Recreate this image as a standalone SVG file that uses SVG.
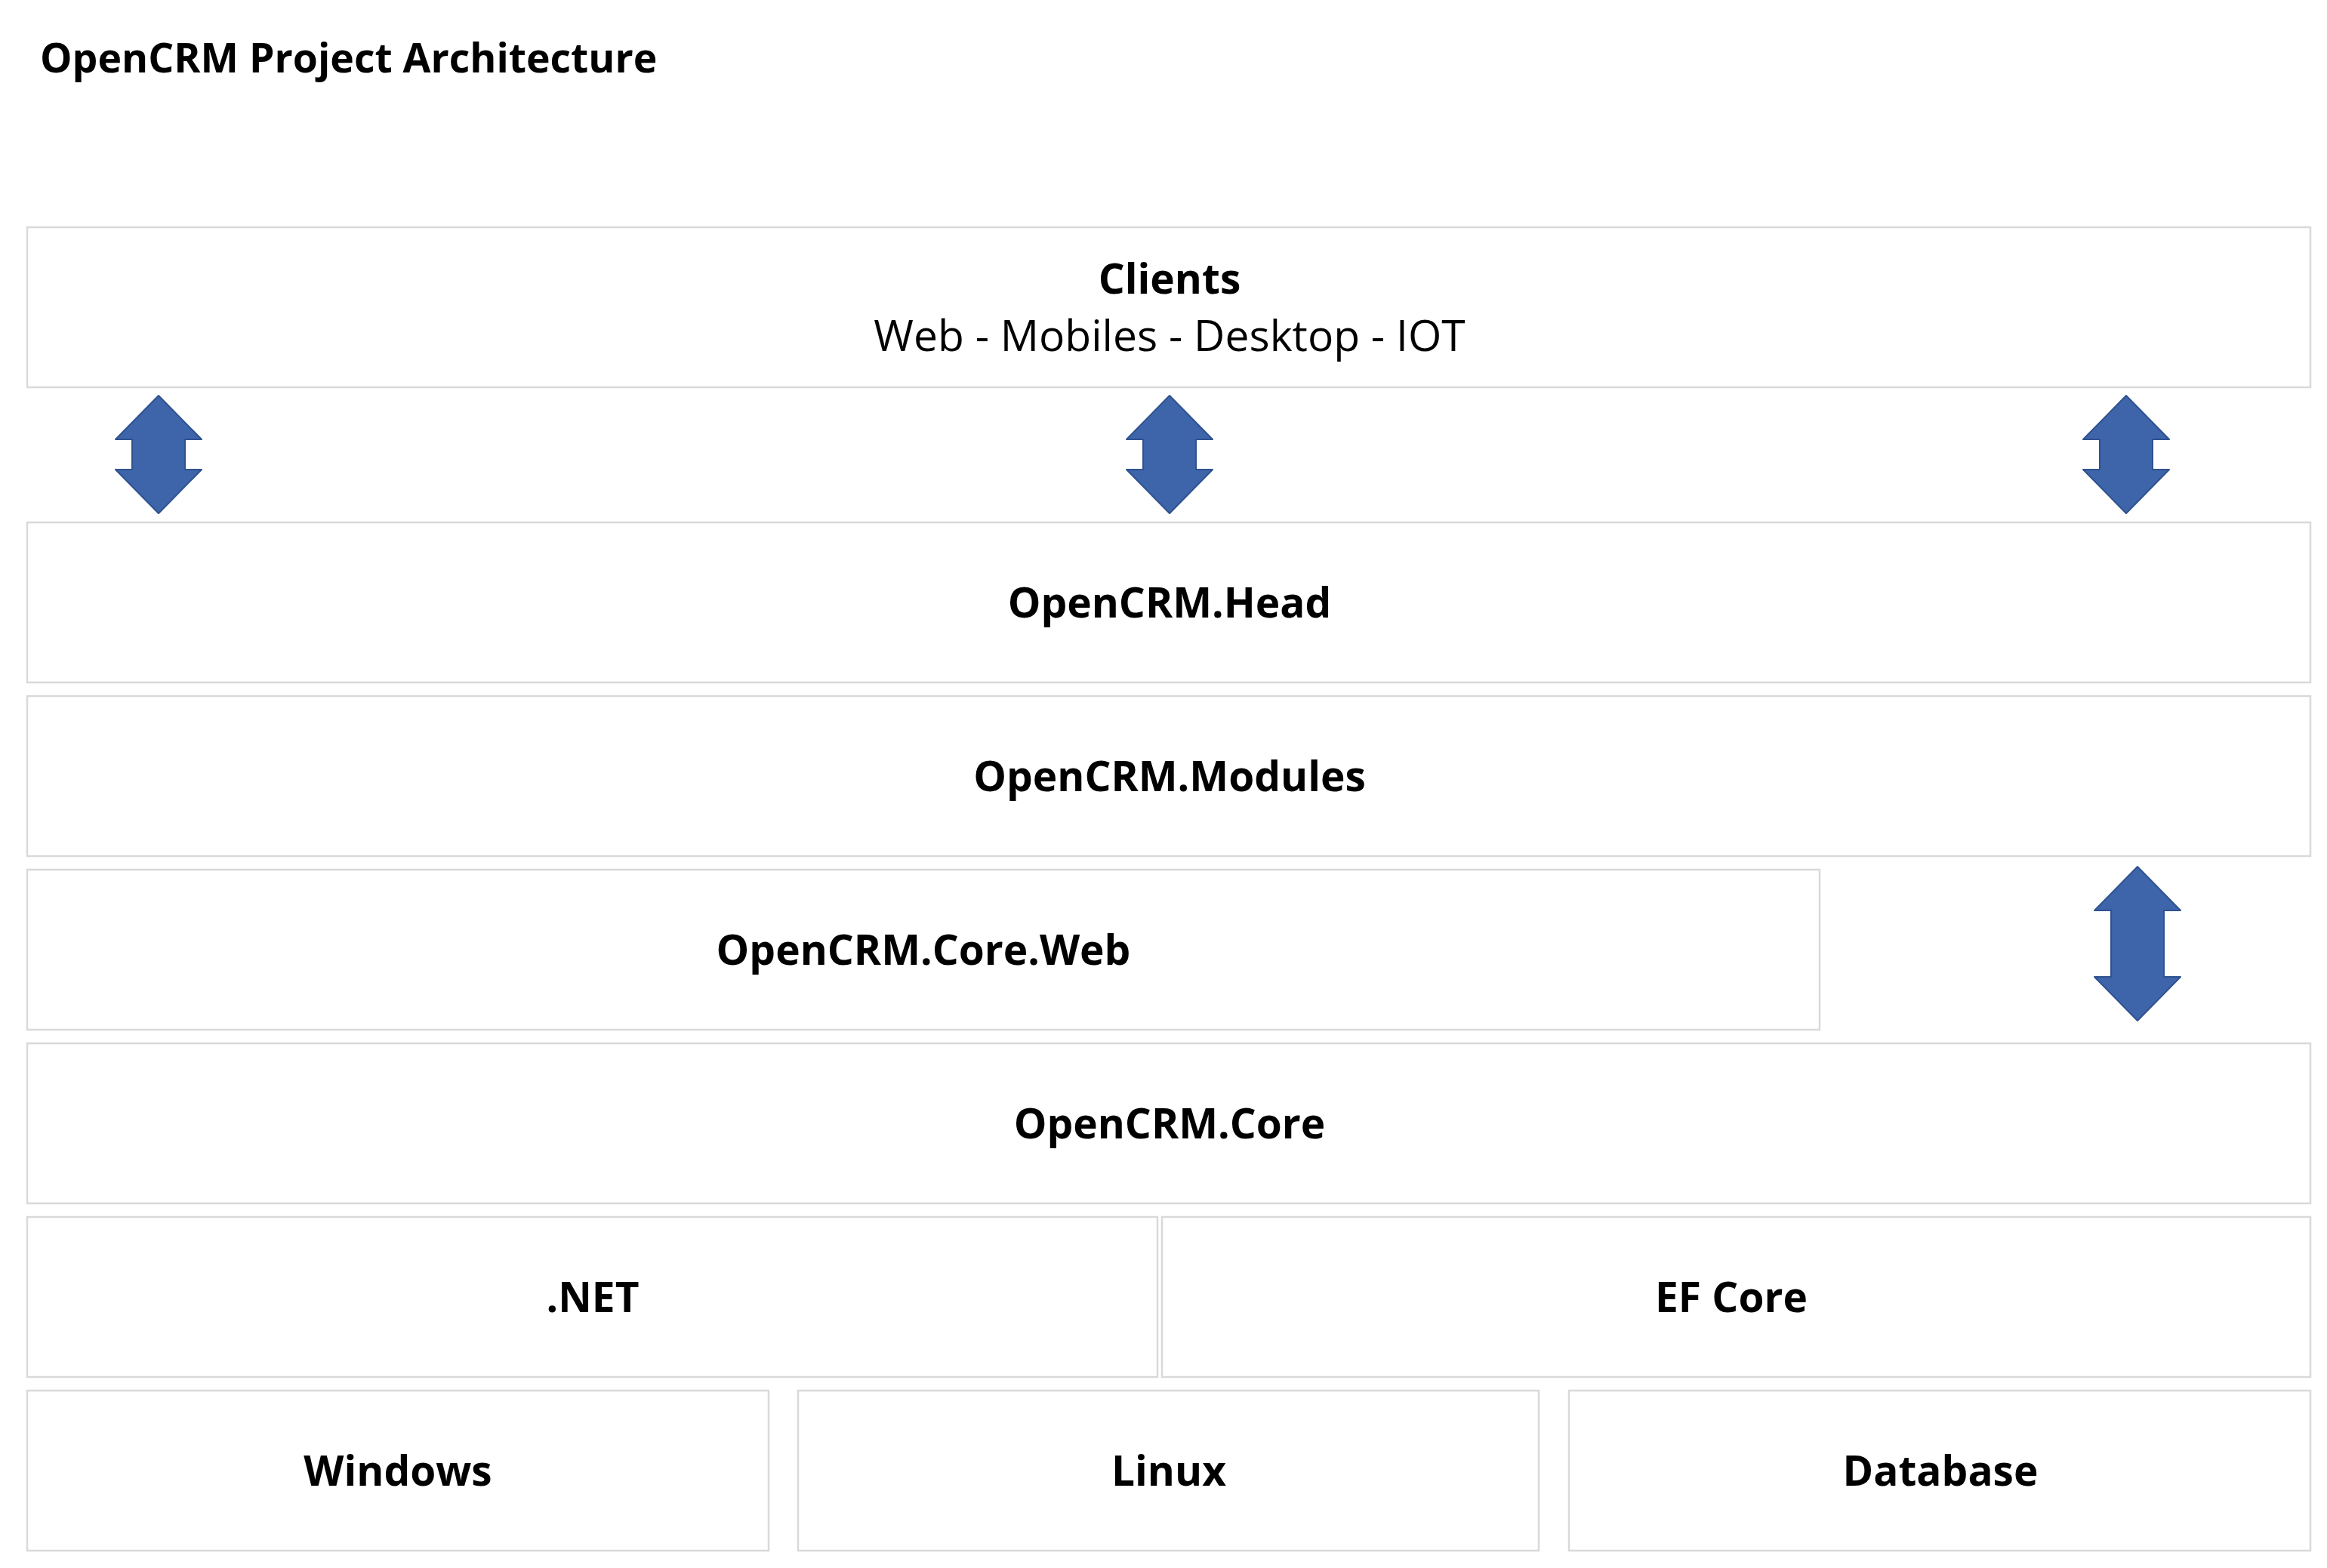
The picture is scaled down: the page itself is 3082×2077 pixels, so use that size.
<svg xmlns="http://www.w3.org/2000/svg" width="3082" height="2077" viewBox="0 0 3082 2077">
<style>
.box{fill:#FFFFFF;stroke:#D9D9D9;stroke-width:2.5}
.lbl{font-family:"Open Sans","Liberation Sans",sans-serif;font-weight:700;font-size:55px;fill:#000000;text-anchor:middle}
.sub{font-family:"Open Sans","Liberation Sans",sans-serif;font-weight:400;font-size:57px;fill:#000000;text-anchor:middle}
.title{font-family:"Open Sans","Liberation Sans",sans-serif;font-weight:700;font-size:53.5px;fill:#000000}
.arr{fill:#3E64AA;stroke:#2F528F;stroke-width:2;stroke-linejoin:round}
</style>
<rect width="3082" height="2077" fill="#FFFFFF"/>
<text class="title" x="53" y="96">OpenCRM Project Architecture</text>
<g id="clients">
<rect class="box" x="36" y="301" width="3024" height="212"/>
<text class="lbl" x="1549" y="389">Clients</text>
<text class="sub" x="1549" y="465">Web - Mobiles - Desktop - IOT</text>
</g>
<g id="head">
<rect class="box" x="36" y="692" width="3024" height="212"/>
<text class="lbl" x="1549" y="818">OpenCRM.Head</text>
</g>
<g id="modules">
<rect class="box" x="36" y="922" width="3024" height="212"/>
<text class="lbl" x="1549" y="1048">OpenCRM.Modules</text>
</g>
<g id="coreweb">
<rect class="box" x="36" y="1152" width="2374" height="212"/>
<text class="lbl" x="1223" y="1278">OpenCRM.Core.Web</text>
</g>
<g id="core">
<rect class="box" x="36" y="1382" width="3024" height="212"/>
<text class="lbl" x="1549" y="1508">OpenCRM.Core</text>
</g>
<g id="dotnet">
<rect class="box" x="36" y="1612" width="1497" height="212"/>
<text class="lbl" x="785" y="1738">.NET</text>
</g>
<g id="efcore">
<rect class="box" x="1539" y="1612" width="1521" height="212"/>
<text class="lbl" x="2293" y="1738">EF Core</text>
</g>
<g id="windows">
<rect class="box" x="36" y="1842" width="982" height="212"/>
<text class="lbl" x="527" y="1968">Windows</text>
</g>
<g id="linux">
<rect class="box" x="1057" y="1842" width="981" height="212"/>
<text class="lbl" x="1548" y="1968">Linux</text>
</g>
<g id="database">
<rect class="box" x="2078" y="1842" width="982" height="212"/>
<text class="lbl" x="2570" y="1968">Database</text>
</g>
<g id="connectors">
<path class="arr" d="M210,524 L267,582 L245,582 L245,622 L267,622 L210,680 L153,622 L175,622 L175,582 L153,582 Z"/>
<path class="arr" d="M1549,524 L1606,582 L1584,582 L1584,622 L1606,622 L1549,680 L1492,622 L1514,622 L1514,582 L1492,582 Z"/>
<path class="arr" d="M2816,524 L2873,582 L2851,582 L2851,622 L2873,622 L2816,680 L2759,622 L2781,622 L2781,582 L2759,582 Z"/>
<path class="arr" d="M2831,1148 L2888,1206 L2866,1206 L2866,1294 L2888,1294 L2831,1352 L2774,1294 L2796,1294 L2796,1206 L2774,1206 Z"/>
</g>
</svg>
